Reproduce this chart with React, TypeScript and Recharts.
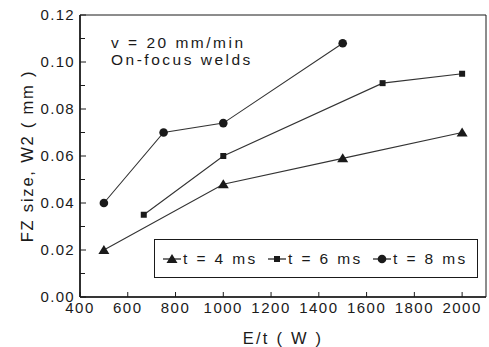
import React from 'react';
import { LineChart, Line, XAxis, YAxis, ReferenceArea } from 'recharts';

// E/t (W) and FZ size W2 (mm) per pulse duration
const energy4 = [500, 1000, 1500, 2000];
const size4 = [0.02, 0.048, 0.059, 0.07];
const energy6 = [667, 1000, 1667, 2000];
const size6 = [0.035, 0.06, 0.091, 0.095];
const energy8 = [500, 750, 1000, 1500];
const size8 = [0.04, 0.07, 0.074, 0.108];

const seriesNames = ['t = 4 ms', 't = 6 ms', 't = 8 ms'];
const xTicks = [400, 600, 800, 1000, 1200, 1400, 1600, 1800, 2000];
const yTicks = [0, 0.01, 0.02, 0.03, 0.04, 0.05, 0.06, 0.07, 0.08, 0.09, 0.1, 0.11, 0.12];

const toPoints = (xs: number[], ys: number[]) => xs.map((x, i) => ({ x, y: ys[i] }));
const data4 = toPoints(energy4, size4);
const data6 = toPoints(energy6, size6);
const data8 = toPoints(energy8, size8);

const INK = '#1a1a1a';
const FONT = '"Liberation Sans", Arial, sans-serif';

const Triangle = ({ cx, cy }: any) => (
  <polygon points={`${cx},${cy - 5} ${cx - 5.5},${cy + 4} ${cx + 5.5},${cy + 4}`} fill={INK} />
);
const Square = ({ cx, cy }: any) => <rect x={cx - 3} y={cy - 3} width={6} height={6} fill={INK} />;
const Circle = ({ cx, cy }: any) => <circle cx={cx} cy={cy} r={4.3} fill={INK} />;

const shapes = [Triangle, Square, Circle];

const YTick = ({ x, y, payload }: any) => {
  const v = payload.value;
  const major = Math.round(v * 100) % 2 === 0;
  const ax = x + 5;
  return (
    <g>
      <line x1={ax} x2={ax + (major ? 6 : 5)} y1={y} y2={y} stroke={INK} strokeWidth={1} />
      {major && (
        <text x={x} y={y + 4.5} textAnchor="end" fontSize={15} letterSpacing={1.3} fill={INK} fontFamily={FONT}>
          {v.toFixed(2)}
        </text>
      )}
    </g>
  );
};

const XTick = ({ x, y, payload }: any) => {
  const ay = y - 4;
  return (
    <g>
      <line x1={x} x2={x} y1={ay} y2={ay - 5} stroke={INK} strokeWidth={1} />
      <text x={x} y={y + 12} textAnchor="middle" fontSize={15} letterSpacing={1.5} fill={INK} fontFamily={FONT}>
        {payload.value}
      </text>
    </g>
  );
};

const LegendBox = () => (
  <div
    style={{
      position: 'absolute',
      left: 154,
      top: 239,
      width: 324,
      height: 39,
      border: `1.5px solid ${INK}`,
      display: 'flex',
      alignItems: 'center',
      paddingLeft: 8,
      boxSizing: 'border-box',
      fontFamily: FONT,
      fontSize: 15.5,
      letterSpacing: 2.4,
      color: INK,
    }}
  >
    {seriesNames.map((name, i) => {
      const Shape = shapes[i];
      return (
        <div key={name} style={{ display: 'flex', alignItems: 'center', width: 105, flex: 'none' }}>
          <svg width={18} height={12} style={{ flex: 'none' }}>
            <line x1={0} x2={18} y1={6} y2={6} stroke={INK} strokeWidth={1.2} />
            <Shape cx={9} cy={6} />
          </svg>
          <span style={{ marginLeft: 2, whiteSpace: 'pre' }}>{name}</span>
        </div>
      );
    })}
  </div>
);

export default function App() {
  return (
    <div style={{ position: 'absolute', left: 0, top: 0, width: 489, height: 347, background: '#fff' }}>
      <LineChart width={489} height={347} margin={{ top: 15, right: 3, left: 0, bottom: 0 }}>
        <XAxis
          type="number"
          dataKey="x"
          domain={[400, 2100]}
          ticks={xTicks}
          allowDataOverflow
          height={50}
          tickSize={0}
          tickMargin={4}
          tick={<XTick />}
          axisLine={{ stroke: INK, strokeWidth: 1.6 }}
          label={{
            value: 'E/t  ( W )',
            position: 'insideBottom',
            offset: 3,
            style: { fontSize: 16.5, letterSpacing: 2.2, fill: INK, fontFamily: FONT },
          }}
        />
        <YAxis
          type="number"
          dataKey="y"
          domain={[0, 0.12]}
          ticks={yTicks}
          allowDataOverflow
          width={80}
          tickSize={0}
          tickMargin={5}
          tick={<YTick />}
          interval={0}
          axisLine={{ stroke: INK, strokeWidth: 1.6 }}
          label={{
            value: 'FZ size, W2 ( mm )',
            angle: -90,
            position: 'insideLeft',
            offset: 27,
            style: { fontSize: 16.5, letterSpacing: 1.8, fill: INK, fontFamily: FONT, textAnchor: 'middle' },
          }}
        />
        <ReferenceArea x1={400} x2={2100} y1={0} y2={0.12} fill="none" stroke={INK} strokeWidth={1} />
        <Line data={data4} dataKey="y" name={seriesNames[0]} stroke="#333" strokeWidth={1.1}
          dot={(p: any) => <Triangle key={`a${p.index}`} cx={p.cx} cy={p.cy} />} isAnimationActive={false} />
        <Line data={data6} dataKey="y" name={seriesNames[1]} stroke="#333" strokeWidth={1.1}
          dot={(p: any) => <Square key={`b${p.index}`} cx={p.cx} cy={p.cy} />} isAnimationActive={false} />
        <Line data={data8} dataKey="y" name={seriesNames[2]} stroke="#333" strokeWidth={1.1}
          dot={(p: any) => <Circle key={`c${p.index}`} cx={p.cx} cy={p.cy} />} isAnimationActive={false} />
      </LineChart>
      <LegendBox />
      <div
        style={{
          position: 'absolute',
          left: 111,
          top: 35,
          fontFamily: FONT,
          fontSize: 15.5,
          lineHeight: '16.5px',
          letterSpacing: 2.5,
          color: INK,
        }}
      >
        <div>v = 20 mm/min</div>
        <div>On-focus welds</div>
      </div>
    </div>
  );
}
